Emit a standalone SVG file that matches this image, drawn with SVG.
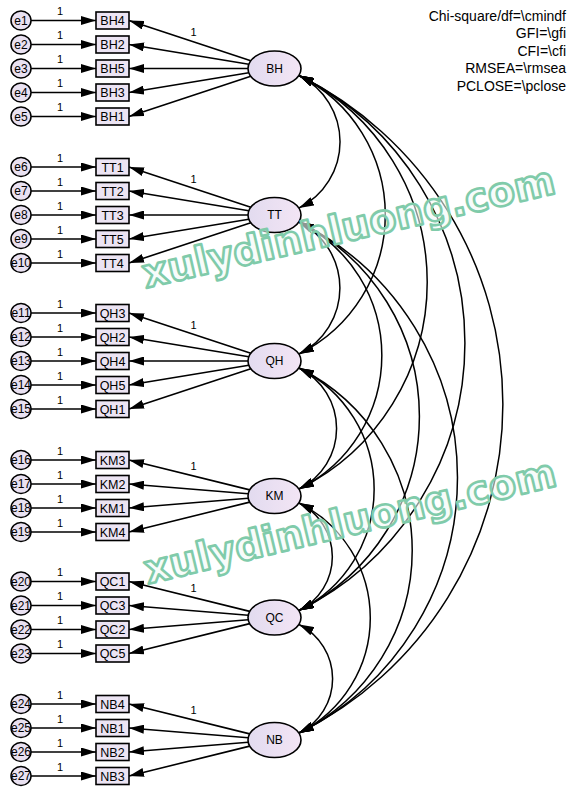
<svg xmlns="http://www.w3.org/2000/svg" width="574" height="796" viewBox="0 0 574 796">
<defs>
<linearGradient id="gl" x1="0" y1="0" x2="1" y2="0">
<stop offset="0" stop-color="#e2dbef"/>
<stop offset="1" stop-color="#f3e5f5"/>
</linearGradient>
<marker id="ah" viewBox="0 0 15 9" refX="15" refY="4.5" markerWidth="15" markerHeight="9" markerUnits="userSpaceOnUse" orient="auto-start-reverse">
<path d="M0,0 L15,4.5 L0,9 z" fill="#000"/>
</marker>
<style>
text{font-family:"Liberation Sans",Arial,sans-serif;fill:#000}
.lat{fill:url(#gl);stroke:#000;stroke-width:1.6}
.obs{fill:#ece4f3;stroke:#000;stroke-width:1.6}
.err{fill:#e9e1f1;stroke:#000;stroke-width:1.5}
.t12{font-size:12px;text-anchor:middle}
.t125{font-size:12.5px;text-anchor:middle}
.w{font-size:11px;text-anchor:middle}
.fit{font-size:14px;text-anchor:end}
.a{fill:none;stroke:#000;stroke-width:1.6;marker-end:url(#ah)}
.c{fill:none;stroke:#000;stroke-width:1.5;marker-start:url(#ah);marker-end:url(#ah)}
.wm{font-family:"DejaVu Sans",sans-serif;font-weight:bold;font-size:40px;fill:#f2fbf7;fill-opacity:.6;stroke:#80cbaa;stroke-width:2.6;stroke-linejoin:round}
</style>
</defs>
<rect width="574" height="796" fill="#fff"/>

<g id="connectors">
<line class="a" x1="31" y1="20.5" x2="96" y2="20.5"/>
<line class="a" x1="31" y1="44.5" x2="96" y2="44.5"/>
<line class="a" x1="31" y1="68.5" x2="96" y2="68.5"/>
<line class="a" x1="31" y1="92.5" x2="96" y2="92.5"/>
<line class="a" x1="31" y1="116.5" x2="96" y2="116.5"/>
<line class="a" x1="31" y1="167" x2="96" y2="167"/>
<line class="a" x1="31" y1="191" x2="96" y2="191"/>
<line class="a" x1="31" y1="215" x2="96" y2="215"/>
<line class="a" x1="31" y1="239" x2="96" y2="239"/>
<line class="a" x1="31" y1="263" x2="96" y2="263"/>
<line class="a" x1="31" y1="313" x2="96" y2="313"/>
<line class="a" x1="31" y1="337" x2="96" y2="337"/>
<line class="a" x1="31" y1="361" x2="96" y2="361"/>
<line class="a" x1="31" y1="385" x2="96" y2="385"/>
<line class="a" x1="31" y1="409" x2="96" y2="409"/>
<line class="a" x1="31" y1="460" x2="96" y2="460"/>
<line class="a" x1="31" y1="484" x2="96" y2="484"/>
<line class="a" x1="31" y1="508" x2="96" y2="508"/>
<line class="a" x1="31" y1="532" x2="96" y2="532"/>
<line class="a" x1="31" y1="581.5" x2="96" y2="581.5"/>
<line class="a" x1="31" y1="605.5" x2="96" y2="605.5"/>
<line class="a" x1="31" y1="629.5" x2="96" y2="629.5"/>
<line class="a" x1="31" y1="653.5" x2="96" y2="653.5"/>
<line class="a" x1="31" y1="704" x2="96" y2="704"/>
<line class="a" x1="31" y1="728" x2="96" y2="728"/>
<line class="a" x1="31" y1="752" x2="96" y2="752"/>
<line class="a" x1="31" y1="776" x2="96" y2="776"/>
<line class="a" x1="250.8" y1="60.7" x2="129" y2="20.5"/>
<line class="a" x1="248.8" y1="64.3" x2="129" y2="44.5"/>
<line class="a" x1="248" y1="68.5" x2="129" y2="68.5"/>
<line class="a" x1="248.8" y1="72.7" x2="129" y2="92.5"/>
<line class="a" x1="250.8" y1="76.3" x2="129" y2="116.5"/>
<line class="a" x1="250.8" y1="207.2" x2="129" y2="167"/>
<line class="a" x1="248.8" y1="210.8" x2="129" y2="191"/>
<line class="a" x1="248" y1="215" x2="129" y2="215"/>
<line class="a" x1="248.8" y1="219.2" x2="129" y2="239"/>
<line class="a" x1="250.8" y1="222.8" x2="129" y2="263"/>
<line class="a" x1="250.8" y1="353.2" x2="129" y2="313"/>
<line class="a" x1="248.8" y1="356.8" x2="129" y2="337"/>
<line class="a" x1="248" y1="361" x2="129" y2="361"/>
<line class="a" x1="248.8" y1="365.2" x2="129" y2="385"/>
<line class="a" x1="250.8" y1="368.8" x2="129" y2="409"/>
<line class="a" x1="249.7" y1="489.9" x2="129" y2="460"/>
<line class="a" x1="248.2" y1="493.8" x2="129" y2="484"/>
<line class="a" x1="248.2" y1="498.2" x2="129" y2="508"/>
<line class="a" x1="249.7" y1="502.1" x2="129" y2="532"/>
<line class="a" x1="249.7" y1="611.4" x2="129" y2="581.5"/>
<line class="a" x1="248.2" y1="615.3" x2="129" y2="605.5"/>
<line class="a" x1="248.2" y1="619.7" x2="129" y2="629.5"/>
<line class="a" x1="249.7" y1="623.6" x2="129" y2="653.5"/>
<line class="a" x1="249.7" y1="733.9" x2="129" y2="704"/>
<line class="a" x1="248.2" y1="737.8" x2="129" y2="728"/>
<line class="a" x1="248.2" y1="742.2" x2="129" y2="752"/>
<line class="a" x1="249.7" y1="746.1" x2="129" y2="776"/>
<path class="c" d="M299,75.5 A74,74 0 0 1 299,208"/>
<path class="c" d="M299,75.5 A155.5,155.5 0 0 1 299,354"/>
<path class="c" d="M299,75.5 A230.8,230.8 0 0 1 299,489"/>
<path class="c" d="M299,75.5 A298.6,298.6 0 0 1 299,610.5"/>
<path class="c" d="M299,75.5 A367,367 0 0 1 299,733"/>
<path class="c" d="M299,222 A73.7,73.7 0 0 1 299,354"/>
<path class="c" d="M299,222 A149,149 0 0 1 299,489"/>
<path class="c" d="M299,222 A216.9,216.9 0 0 1 299,610.5"/>
<path class="c" d="M299,222 A285.2,285.2 0 0 1 299,733"/>
<path class="c" d="M299,368 A67.5,67.5 0 0 1 299,489"/>
<path class="c" d="M299,368 A135.4,135.4 0 0 1 299,610.5"/>
<path class="c" d="M299,368 A203.7,203.7 0 0 1 299,733"/>
<path class="c" d="M299,503 A60,60 0 0 1 299,610.5"/>
<path class="c" d="M299,503 A128.4,128.4 0 0 1 299,733"/>
<path class="c" d="M299,624.5 A60.6,60.6 0 0 1 299,733"/>
<g id="weights">
<text class="w" x="60" y="15">1</text>
<text class="w" x="60" y="39">1</text>
<text class="w" x="60" y="63">1</text>
<text class="w" x="60" y="87">1</text>
<text class="w" x="60" y="111">1</text>
<text class="w" x="60" y="161.5">1</text>
<text class="w" x="60" y="185.5">1</text>
<text class="w" x="60" y="209.5">1</text>
<text class="w" x="60" y="233.5">1</text>
<text class="w" x="60" y="257.5">1</text>
<text class="w" x="60" y="307.5">1</text>
<text class="w" x="60" y="331.5">1</text>
<text class="w" x="60" y="355.5">1</text>
<text class="w" x="60" y="379.5">1</text>
<text class="w" x="60" y="403.5">1</text>
<text class="w" x="60" y="454.5">1</text>
<text class="w" x="60" y="478.5">1</text>
<text class="w" x="60" y="502.5">1</text>
<text class="w" x="60" y="526.5">1</text>
<text class="w" x="60" y="576">1</text>
<text class="w" x="60" y="600">1</text>
<text class="w" x="60" y="624">1</text>
<text class="w" x="60" y="648">1</text>
<text class="w" x="60" y="698.5">1</text>
<text class="w" x="60" y="722.5">1</text>
<text class="w" x="60" y="746.5">1</text>
<text class="w" x="60" y="770.5">1</text>
<text class="w" x="193.5" y="36">1</text>
<text class="w" x="193.5" y="182.5">1</text>
<text class="w" x="193.5" y="328.5">1</text>
<text class="w" x="193.5" y="470">1</text>
<text class="w" x="193.5" y="591.5">1</text>
<text class="w" x="193.5" y="714">1</text>
</g>
</g>

<g id="e1"><ellipse class="err" cx="21" cy="20.5" rx="10" ry="9.5"/><text class="t12" x="21" y="24.7">e1</text></g>
<g id="e2"><ellipse class="err" cx="21" cy="44.5" rx="10" ry="9.5"/><text class="t12" x="21" y="48.7">e2</text></g>
<g id="e3"><ellipse class="err" cx="21" cy="68.5" rx="10" ry="9.5"/><text class="t12" x="21" y="72.7">e3</text></g>
<g id="e4"><ellipse class="err" cx="21" cy="92.5" rx="10" ry="9.5"/><text class="t12" x="21" y="96.7">e4</text></g>
<g id="e5"><ellipse class="err" cx="21" cy="116.5" rx="10" ry="9.5"/><text class="t12" x="21" y="120.7">e5</text></g>
<g id="e6"><ellipse class="err" cx="21" cy="167" rx="10" ry="9.5"/><text class="t12" x="21" y="171.2">e6</text></g>
<g id="e7"><ellipse class="err" cx="21" cy="191" rx="10" ry="9.5"/><text class="t12" x="21" y="195.2">e7</text></g>
<g id="e8"><ellipse class="err" cx="21" cy="215" rx="10" ry="9.5"/><text class="t12" x="21" y="219.2">e8</text></g>
<g id="e9"><ellipse class="err" cx="21" cy="239" rx="10" ry="9.5"/><text class="t12" x="21" y="243.2">e9</text></g>
<g id="e10"><ellipse class="err" cx="21" cy="263" rx="10" ry="9.5"/><text class="t12" x="21" y="267.2">e10</text></g>
<g id="e11"><ellipse class="err" cx="21" cy="313" rx="10" ry="9.5"/><text class="t12" x="21" y="317.2">e11</text></g>
<g id="e12"><ellipse class="err" cx="21" cy="337" rx="10" ry="9.5"/><text class="t12" x="21" y="341.2">e12</text></g>
<g id="e13"><ellipse class="err" cx="21" cy="361" rx="10" ry="9.5"/><text class="t12" x="21" y="365.2">e13</text></g>
<g id="e14"><ellipse class="err" cx="21" cy="385" rx="10" ry="9.5"/><text class="t12" x="21" y="389.2">e14</text></g>
<g id="e15"><ellipse class="err" cx="21" cy="409" rx="10" ry="9.5"/><text class="t12" x="21" y="413.2">e15</text></g>
<g id="e16"><ellipse class="err" cx="21" cy="460" rx="10" ry="9.5"/><text class="t12" x="21" y="464.2">e16</text></g>
<g id="e17"><ellipse class="err" cx="21" cy="484" rx="10" ry="9.5"/><text class="t12" x="21" y="488.2">e17</text></g>
<g id="e18"><ellipse class="err" cx="21" cy="508" rx="10" ry="9.5"/><text class="t12" x="21" y="512.2">e18</text></g>
<g id="e19"><ellipse class="err" cx="21" cy="532" rx="10" ry="9.5"/><text class="t12" x="21" y="536.2">e19</text></g>
<g id="e20"><ellipse class="err" cx="21" cy="581.5" rx="10" ry="9.5"/><text class="t12" x="21" y="585.7">e20</text></g>
<g id="e21"><ellipse class="err" cx="21" cy="605.5" rx="10" ry="9.5"/><text class="t12" x="21" y="609.7">e21</text></g>
<g id="e22"><ellipse class="err" cx="21" cy="629.5" rx="10" ry="9.5"/><text class="t12" x="21" y="633.7">e22</text></g>
<g id="e23"><ellipse class="err" cx="21" cy="653.5" rx="10" ry="9.5"/><text class="t12" x="21" y="657.7">e23</text></g>
<g id="e24"><ellipse class="err" cx="21" cy="704" rx="10" ry="9.5"/><text class="t12" x="21" y="708.2">e24</text></g>
<g id="e25"><ellipse class="err" cx="21" cy="728" rx="10" ry="9.5"/><text class="t12" x="21" y="732.2">e25</text></g>
<g id="e26"><ellipse class="err" cx="21" cy="752" rx="10" ry="9.5"/><text class="t12" x="21" y="756.2">e26</text></g>
<g id="e27"><ellipse class="err" cx="21" cy="776" rx="10" ry="9.5"/><text class="t12" x="21" y="780.2">e27</text></g>

<g id="BH4"><rect class="obs" x="96" y="12" width="33" height="17"/><text class="t125" x="112.5" y="25">BH4</text></g>
<g id="BH2"><rect class="obs" x="96" y="36" width="33" height="17"/><text class="t125" x="112.5" y="49">BH2</text></g>
<g id="BH5"><rect class="obs" x="96" y="60" width="33" height="17"/><text class="t125" x="112.5" y="73">BH5</text></g>
<g id="BH3"><rect class="obs" x="96" y="84" width="33" height="17"/><text class="t125" x="112.5" y="97">BH3</text></g>
<g id="BH1"><rect class="obs" x="96" y="108" width="33" height="17"/><text class="t125" x="112.5" y="121">BH1</text></g>
<g id="TT1"><rect class="obs" x="96" y="158.5" width="33" height="17"/><text class="t125" x="112.5" y="171.5">TT1</text></g>
<g id="TT2"><rect class="obs" x="96" y="182.5" width="33" height="17"/><text class="t125" x="112.5" y="195.5">TT2</text></g>
<g id="TT3"><rect class="obs" x="96" y="206.5" width="33" height="17"/><text class="t125" x="112.5" y="219.5">TT3</text></g>
<g id="TT5"><rect class="obs" x="96" y="230.5" width="33" height="17"/><text class="t125" x="112.5" y="243.5">TT5</text></g>
<g id="TT4"><rect class="obs" x="96" y="254.5" width="33" height="17"/><text class="t125" x="112.5" y="267.5">TT4</text></g>
<g id="QH3"><rect class="obs" x="96" y="304.5" width="33" height="17"/><text class="t125" x="112.5" y="317.5">QH3</text></g>
<g id="QH2"><rect class="obs" x="96" y="328.5" width="33" height="17"/><text class="t125" x="112.5" y="341.5">QH2</text></g>
<g id="QH4"><rect class="obs" x="96" y="352.5" width="33" height="17"/><text class="t125" x="112.5" y="365.5">QH4</text></g>
<g id="QH5"><rect class="obs" x="96" y="376.5" width="33" height="17"/><text class="t125" x="112.5" y="389.5">QH5</text></g>
<g id="QH1"><rect class="obs" x="96" y="400.5" width="33" height="17"/><text class="t125" x="112.5" y="413.5">QH1</text></g>
<g id="KM3"><rect class="obs" x="96" y="451.5" width="33" height="17"/><text class="t125" x="112.5" y="464.5">KM3</text></g>
<g id="KM2"><rect class="obs" x="96" y="475.5" width="33" height="17"/><text class="t125" x="112.5" y="488.5">KM2</text></g>
<g id="KM1"><rect class="obs" x="96" y="499.5" width="33" height="17"/><text class="t125" x="112.5" y="512.5">KM1</text></g>
<g id="KM4"><rect class="obs" x="96" y="523.5" width="33" height="17"/><text class="t125" x="112.5" y="536.5">KM4</text></g>
<g id="QC1"><rect class="obs" x="96" y="573" width="33" height="17"/><text class="t125" x="112.5" y="586">QC1</text></g>
<g id="QC3"><rect class="obs" x="96" y="597" width="33" height="17"/><text class="t125" x="112.5" y="610">QC3</text></g>
<g id="QC2"><rect class="obs" x="96" y="621" width="33" height="17"/><text class="t125" x="112.5" y="634">QC2</text></g>
<g id="QC5"><rect class="obs" x="96" y="645" width="33" height="17"/><text class="t125" x="112.5" y="658">QC5</text></g>
<g id="NB4"><rect class="obs" x="96" y="695.5" width="33" height="17"/><text class="t125" x="112.5" y="708.5">NB4</text></g>
<g id="NB1"><rect class="obs" x="96" y="719.5" width="33" height="17"/><text class="t125" x="112.5" y="732.5">NB1</text></g>
<g id="NB2"><rect class="obs" x="96" y="743.5" width="33" height="17"/><text class="t125" x="112.5" y="756.5">NB2</text></g>
<g id="NB3"><rect class="obs" x="96" y="767.5" width="33" height="17"/><text class="t125" x="112.5" y="780.5">NB3</text></g>

<g id="BH"><ellipse class="lat" cx="274.5" cy="68.5" rx="26.5" ry="17.5"/><text class="t12" x="274.5" y="72.8">BH</text></g>
<g id="TT"><ellipse class="lat" cx="274.5" cy="215" rx="26.5" ry="17.5"/><text class="t12" x="274.5" y="219.3">TT</text></g>
<g id="QH"><ellipse class="lat" cx="274.5" cy="361" rx="26.5" ry="17.5"/><text class="t12" x="274.5" y="365.3">QH</text></g>
<g id="KM"><ellipse class="lat" cx="274.5" cy="496" rx="26.5" ry="17.5"/><text class="t12" x="274.5" y="500.3">KM</text></g>
<g id="QC"><ellipse class="lat" cx="274.5" cy="617.5" rx="26.5" ry="17.5"/><text class="t12" x="274.5" y="621.8">QC</text></g>
<g id="NB"><ellipse class="lat" cx="274.5" cy="740" rx="26.5" ry="17.5"/><text class="t12" x="274.5" y="744.3">NB</text></g>

<g id="fit">
<text class="fit" x="566" y="20.7">Chi-square/df=\cmindf</text>
<text class="fit" x="566" y="38.2">GFI=\gfi</text>
<text class="fit" x="566" y="55.7">CFI=\cfi</text>
<text class="fit" x="566" y="73.2">RMSEA=\rmsea</text>
<text class="fit" x="566" y="90.7">PCLOSE=\pclose</text>
</g>

<g id="watermark">
<text class="wm" x="146" y="288" transform="rotate(-13 146 288)" textLength="422" lengthAdjust="spacingAndGlyphs">xulydinhluong.com</text>
<text class="wm" x="148" y="584" transform="rotate(-13.5 148 584)" textLength="422" lengthAdjust="spacingAndGlyphs">xulydinhluong.com</text>
</g>
</svg>
